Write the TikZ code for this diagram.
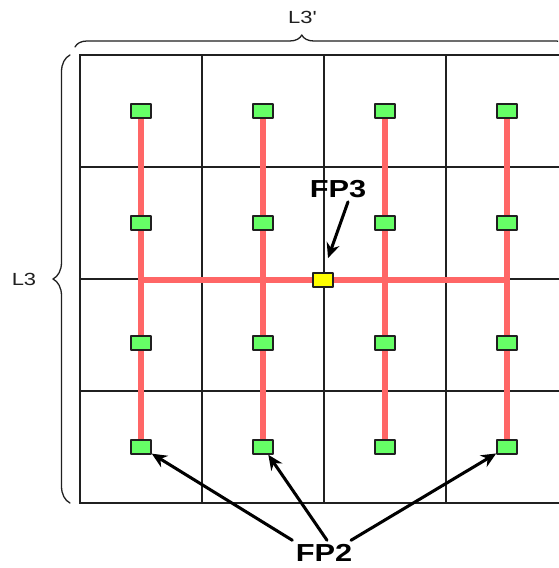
\documentclass[tikz,border=0pt]{standalone}
\usepackage{fontspec}
\setmainfont{Liberation Sans}
\newfontfamily\widesans[FakeStretch=1.25]{Liberation Sans}
\usetikzlibrary{arrows.meta}
\usetikzlibrary{decorations.pathreplacing}
\definecolor{wwffww}{rgb}{0.4,1.,0.4}
\definecolor{ffwwww}{rgb}{1.,0.4,0.4}
\definecolor{ffffqq}{rgb}{1.,1.,0.}
\definecolor{sqsqsq}{rgb}{0.125,0.125,0.125}
\pgfdeclarelayer{background}
\pgfsetlayers{background,main}

\begin{document}
\begin{tikzpicture}[line cap=round,line join=round,x=0.03cm,y=-0.03cm,
    cell/.style={line width=1.6pt,color=sqsqsq},
    feeder/.style={line width=5.5pt,color=ffwwww,line cap=butt},
    fptwo/.style={draw=sqsqsq,line width=1.3pt,fill=wwffww,minimum width=0.6cm,minimum height=0.42cm,inner sep=0pt},
    fpthree/.style={fptwo,fill=ffffqq},
    pointer/.style={-{Stealth[length=0.45cm,width=0.4cm]},line width=2.6pt,color=black},
    tag/.style={font=\widesans\bfseries\fontsize{21}{25}\selectfont},
    size/.style={font=\widesans\fontsize{15}{18}\selectfont,text=sqsqsq},
    sizebrace/.style={decorate,decoration={brace,amplitude=#1},line width=1.1pt,color=sqsqsq}]
    \useasboundingbox (0,0) rectangle (558,568);
    \clip (0,0) rectangle (558,568);
    % grid
    \begin{pgfonlayer}{background}
    \fill[white] (0,0) rectangle (558,568);
    \draw[cell] (80,55) rectangle (568,503);
    \foreach \x in {202,324,446} \draw[cell] (\x,55) -- (\x,503);
    \foreach \y in {167,279,391} \draw[cell] (80,\y) -- (568,\y);
    \end{pgfonlayer}
    % points
    \foreach \c/\x in {1/141,2/263,3/385,4/507}
      \foreach \r/\y in {1/111,2/223,3/343,4/447}
        \node[fptwo] (s-\c-\r) at (\x,\y) {};
    \node[fpthree] (fp3) at (323,280) {};
    \begin{pgfonlayer}{background}
    \foreach \c in {1,...,4} \draw[feeder] (s-\c-1.center) -- (s-\c-4.center);
    \draw[feeder] (s-1-1 |- fp3) -- (s-4-1 |- fp3);
    \end{pgfonlayer}
    % dimensions
    \draw[sizebrace=0.36cm,decoration={aspect=0.46}] (75,47) -- (568,47);
    \draw[sizebrace=0.51cm] (70,503) -- (70,55);
    \node[size] (l3w) at (302,17) {L3\textquotesingle};
    \node[size] (l3h) at (24,279) {L3};
    % labels
    \node[tag] (lbl3) at (338,189) {FP3};
    \node[tag] (lbl2) at (324,553) {FP2};
    \draw[pointer,shorten >=0.45cm] ([xshift=0.3cm]lbl3.south) -- (fp3.north);
    \draw[pointer] ([xshift=-0.95cm]lbl2.north) -- (s-1-4);
    \draw[pointer] ([xshift=0.09cm]lbl2.north) -- (s-2-4);
    \draw[pointer] ([xshift=0.81cm]lbl2.north) -- (s-4-4);
\end{tikzpicture}
\end{document}
